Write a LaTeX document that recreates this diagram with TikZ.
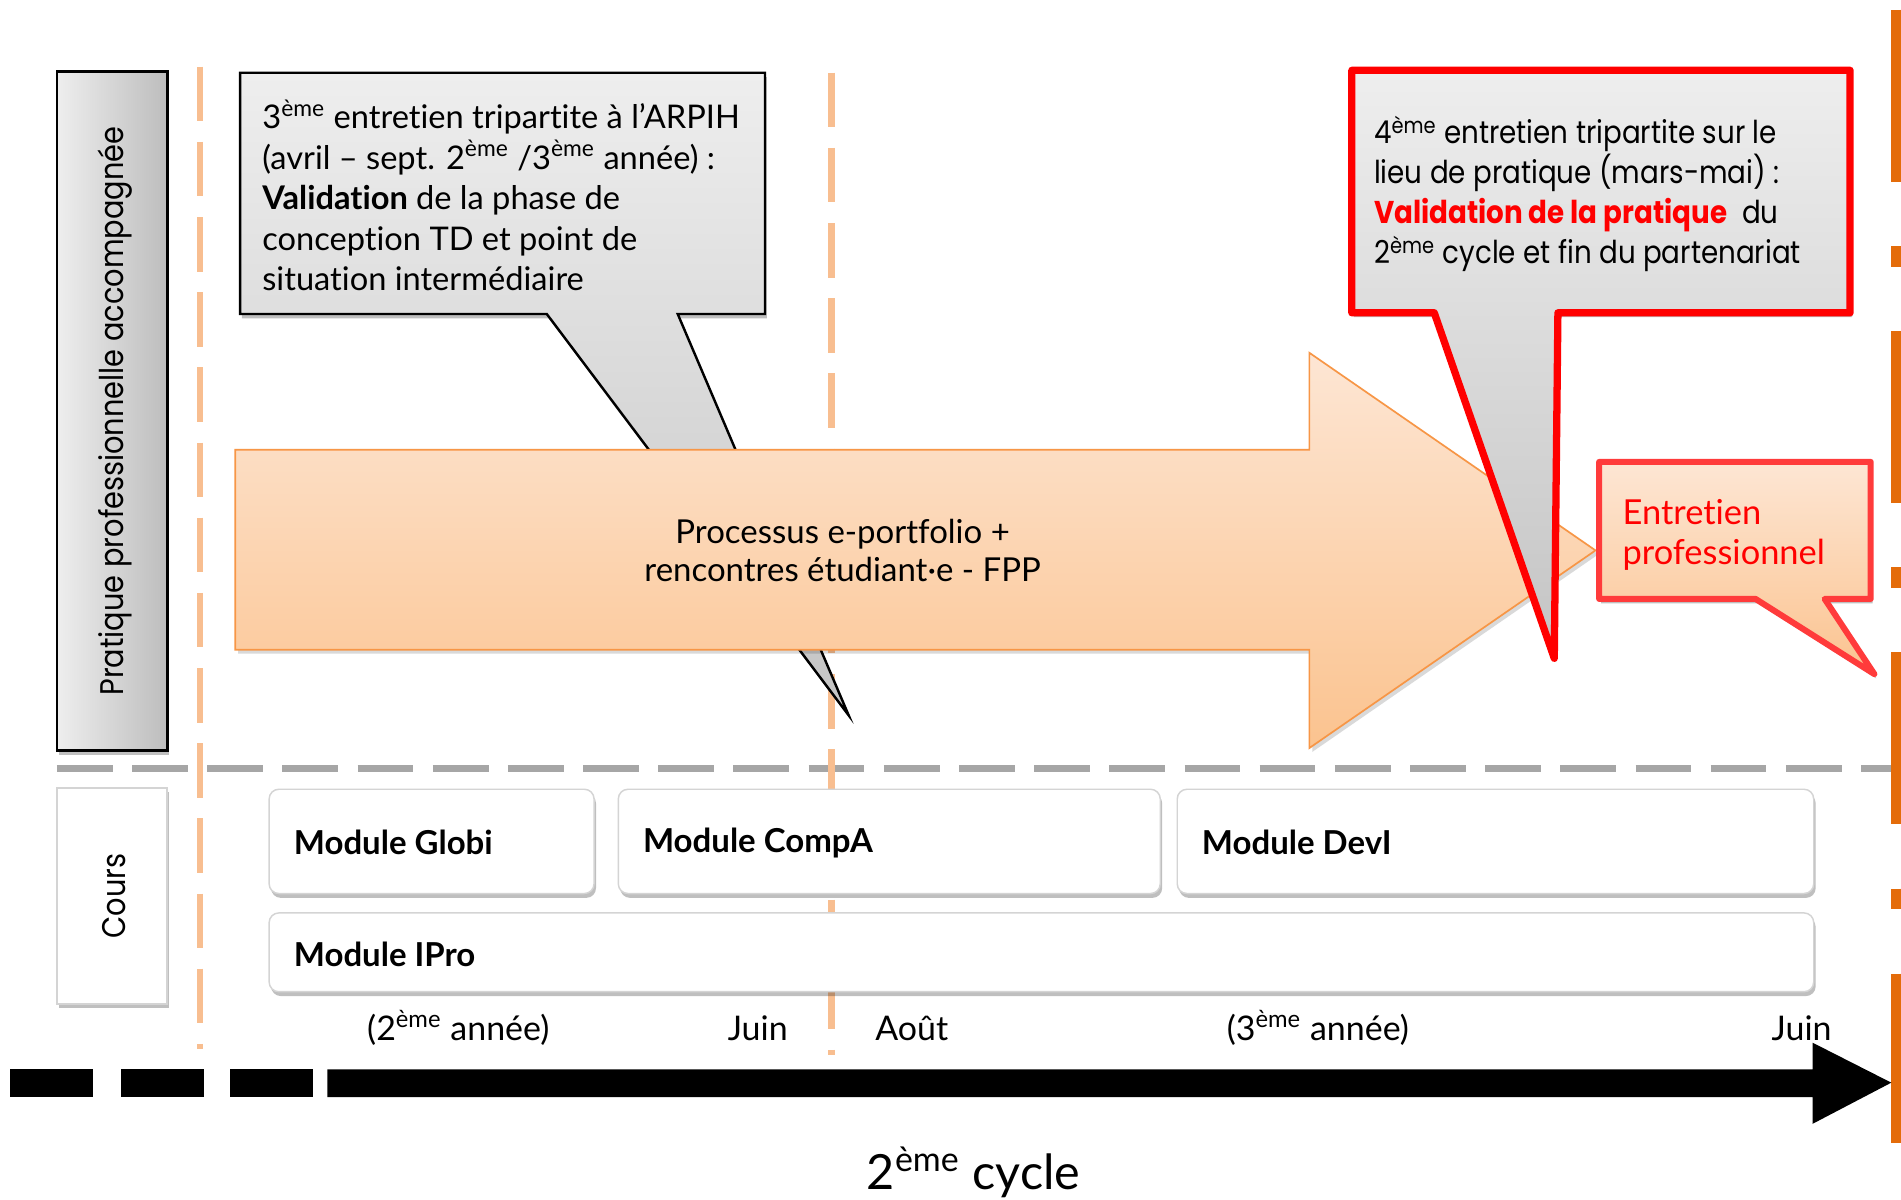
\documentclass[tikz,border=0pt]{standalone}
\usepackage{fontspec}
\setmainfont{Lato}[Ligatures=NoCommon]
\newfontfamily\gothic[FakeStretch=0.88]{Poppins}
\usetikzlibrary{shadows}
\definecolor{lorange}{HTML}{F8BE90}
\definecolor{dorange}{HTML}{E46C0A}
\definecolor{arrowline}{HTML}{F79646}
\definecolor{peachtop}{HTML}{FDE6D4}
\definecolor{peachbot}{HTML}{FBC38F}
\definecolor{graytop}{HTML}{EEEEEE}
\definecolor{graybot}{HTML}{C4C4C4}
\definecolor{grayright}{HTML}{BDBDBD}
\definecolor{redsoft}{HTML}{FF3B3B}
\definecolor{dashgray}{HTML}{A6A6A6}
\definecolor{boxline}{HTML}{D4D4D4}
\begin{document}
\begin{tikzpicture}[x=0.5pt,y=-0.5pt,
  shad/.style={drop shadow={shadow xshift=0.8pt,shadow yshift=-1.8pt,opacity=0.25,fill=black}},
  softshad/.style={drop shadow={shadow xshift=1.2pt,shadow yshift=-1.6pt,opacity=0.15,fill=black}},
  modbox/.style={draw=boxline,line width=0.6pt,fill=white,rounded corners=4pt,shad},
  body/.style={font=\fontsize{13.45pt}{16.7pt}\selectfont,inner sep=0pt,align=left,anchor=west},
  gbody/.style={font=\gothic\fontsize{13pt}{16.5pt}\selectfont,inner sep=0pt,align=left,anchor=west},
  modlabel/.style={font=\bfseries\fontsize{13.6pt}{16.7pt}\selectfont,inner sep=0pt,anchor=west},
  tlabel/.style={font=\fontsize{14pt}{16.7pt}\selectfont,inner sep=0pt},
  vdash/.style={lorange,line width=2.75pt,dash pattern=on 22.5pt off 8.5pt},
  blk/.style={fill=black,draw=none},
]
\useasboundingbox (0,0) rectangle (1568,989);
\fill[white] (0,0) rectangle (1568,989);

% right-edge orange bars
\draw[dorange,line width=4pt,dash pattern=on 71pt off 26.5pt on 8.5pt off 26.5pt] (1564,8) -- (1564,943);

% separators
\draw[dashgray,line width=2.75pt,dash pattern=on 23pt off 8pt] (47,634) -- (1560,634);
\draw[vdash] (165,55) -- (165,865);
\draw[vdash] (686,60) -- (686,870);

% left labels
\draw[left color=graytop,right color=grayright,draw=black,line width=1pt,shad] (47,59) rectangle (138,619);
\node[rotate=90,font=\gothic\fontsize{13.5pt}{16pt}\selectfont,inner sep=0pt] (ppa) at (95,339) {Pratique professionnelle accompagnée};
\draw[fill=white,draw=boxline,line width=0.8pt,shad] (47,650) rectangle (138,828);
\node[rotate=90,font=\gothic\fontsize{13.5pt}{16pt}\selectfont,inner sep=0pt] (cours) at (94,739) {Cours};

% callout 1 (behind arrow)
\draw[top color=graytop,bottom color=graybot,draw=black,line width=1pt,shad]
  (198,60) -- (631,60) -- (631,259) -- (559,259) -- (700,590) -- (451,259) -- (198,259) -- cycle;
\node[body] (c1) at (216,161) {3\textsuperscript{ème} entretien tripartite à l’ARPIH\\(avril – sept. 2\textsuperscript{ème} /3\textsuperscript{ème} année) :\\\textbf{Validation} de la phase de\\conception TD et point de\\situation intermédiaire};

% big arrow
\draw[top color=peachtop,bottom color=peachbot,draw=arrowline,line width=0.7pt,softshad]
  (194,371) -- (1080,371) -- (1080,291) -- (1316,454) -- (1080,617) -- (1080,536) -- (194,536) -- cycle;
\node[font=\fontsize{13.6pt}{16pt}\selectfont,align=center,inner sep=0pt] (proc) at (695,454) {Processus e-portfolio +\\rencontres étudiant·e - FPP};

% callout 2
\draw[top color=graytop,bottom color=graybot,draw=red,line width=3pt,line join=round,shad]
  (1115,58) -- (1526,58) -- (1526,258) -- (1285,258) -- (1282,543) -- (1183,258) -- (1115,258) -- cycle;
\node[gbody] (c2) at (1133,160) {4\textsuperscript{ème} entretien tripartite sur le\\lieu de pratique (mars-mai) :\\{\color{red}\bfseries Validation de la pratique}\ \ du\\2\textsuperscript{ème} cycle et fin du partenariat};

% Entretien professionnel callout
\draw[top color=peachtop,bottom color=peachbot,draw=redsoft,line width=2.5pt,line join=round,shad]
  (1319,381) -- (1543,381) -- (1543,494) -- (1505,494) -- (1546,556) -- (1448,494) -- (1319,494) -- cycle;
\node[font=\fontsize{14.2pt}{16.5pt}\selectfont,inner sep=0pt,align=left,anchor=west,text=red] (ent) at (1338,441) {Entretien\\professionnel};

% modules
\draw[modbox] (222,651) rectangle (490,737);
\node[modlabel] (globi) at (242,695) {Module Globi};
\draw[modbox] (510,651) rectangle (957,737);
\node[modlabel] (compa) at (530,695) {Module CompA};
\draw[modbox] (971,651) rectangle (1496,737);
\node[modlabel] (devi) at (991,695) {Module DevI};
\draw[modbox] (222,753) rectangle (1496,818);
\node[modlabel] (ipro) at (242,787) {Module IPro};

% timeline labels
\node[tlabel] (a2) at (378,848) {(2\textsuperscript{ème} année)};
\node[tlabel] (j1) at (625,848) {Juin};
\node[tlabel] (ao) at (752,848) {Août};
\node[tlabel] (a3) at (1087,848) {(3\textsuperscript{ème} année)};
\node[tlabel] (j2) at (1486,848) {Juin};

% timeline arrow
\fill[blk] (8,882) rectangle (77,905);
\fill[blk] (100,882) rectangle (168,905);
\fill[blk] (190,882) rectangle (258,905);
\fill[blk] (270,882) -- (1495,882) -- (1495,860) -- (1560,893) -- (1495,927) -- (1495,905) -- (270,905) -- cycle;

\node[font=\fontsize{20pt}{24pt}\selectfont,inner sep=0pt] (cyc) at (803,967) {2\textsuperscript{ème} cycle};
\end{tikzpicture}
\end{document}
